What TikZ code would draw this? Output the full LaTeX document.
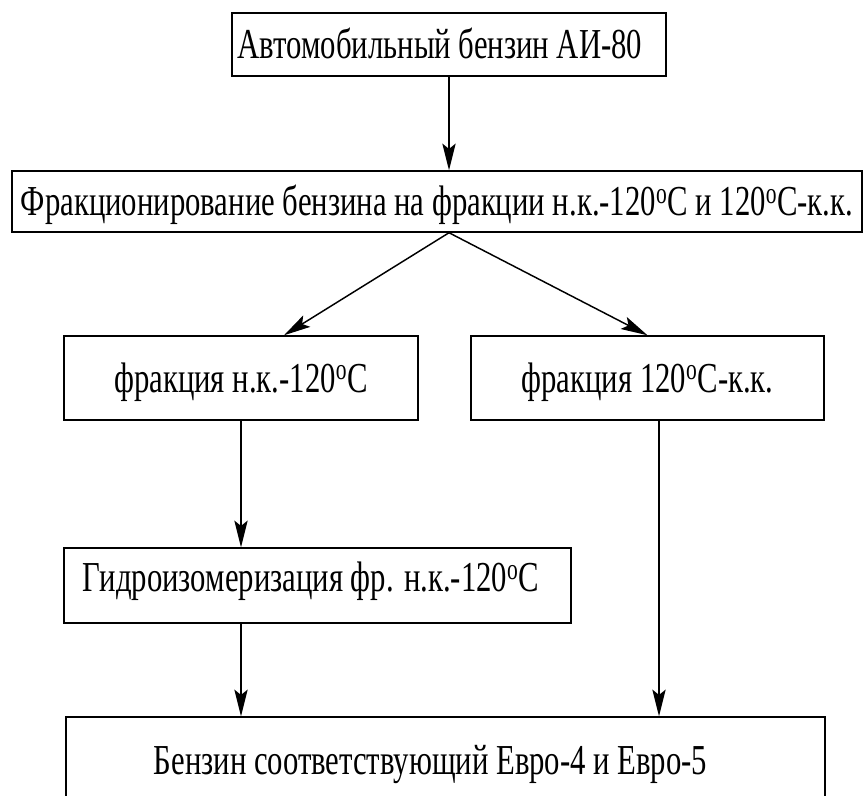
\documentclass[tikz,border=0pt]{standalone}
\usepackage{fontspec}
\setmainfont{Liberation Serif}[FakeStretch=0.72]
\usetikzlibrary{arrows.meta,calc}
\begin{document}
\begin{tikzpicture}[x=0.75pt,y=-0.75pt,
  box/.style={draw,line width=1.1pt,inner sep=0pt,text height=21pt,text depth=0pt,
    font=\fontsize{32}{38}\selectfont},
  conn/.style={line width=1.1pt,-{Stealth[length=20pt,width=10pt,inset=4pt]}}]
\useasboundingbox (0,0) rectangle (864,796);
\clip (0,0) rectangle (864,796);
\fill[white] (0,0) rectangle (864,796);
\node[box,minimum width=434*0.75pt,minimum height=63*0.75pt] (b1) at (449,44.5) {Автомобильный бензин АИ-80\hspace*{13.5pt}};
\node[box,minimum width=850*0.75pt,minimum height=61*0.75pt] (b2) at (437,201.5) {Фракционирование бензина на фракции н.к.-120\textsuperscript{o}С и 120\textsuperscript{o}С-к.к.};
\node[box,minimum width=354*0.75pt,minimum height=84*0.75pt] (b3) at (241,378) {фракция н.к.-120\textsuperscript{o}С};
\node[box,minimum width=353*0.75pt,minimum height=84*0.75pt] (b3r) at (647.5,378) {фракция 120\textsuperscript{o}С-к.к.};
\node[box,minimum width=507*0.75pt,minimum height=75*0.75pt,text depth=12pt] (b4) at (317.5,585.5) {Гидроизомеризация фр. н.к.-120\textsuperscript{o}С\hspace*{9.75pt}};
\node[box,minimum width=759*0.75pt,minimum height=86*0.75pt] (b5) at (445.5,760) {Бензин соответствующий Евро-4 и Евро-5\hspace*{22.5pt}};
\coordinate (s2) at (b1.south |- b2.south);
\coordinate (t3) at ($(b3.north)+(43,0)$);
\coordinate (s3r) at ($(b3r.south)+(11.5,0)$);
\draw[conn] (b1.south) -- (b1.south |- b2.north);
\draw[conn] (s2) -- (t3);
\draw[conn] (s2) -- (b3r.north);
\draw[conn] (b3.south) -- (b3.south |- b4.north);
\draw[conn] (b3.south |- b4.south) -- (b3.south |- b5.north);
\draw[conn] (s3r) -- (s3r |- b5.north);
\end{tikzpicture}
\end{document}
